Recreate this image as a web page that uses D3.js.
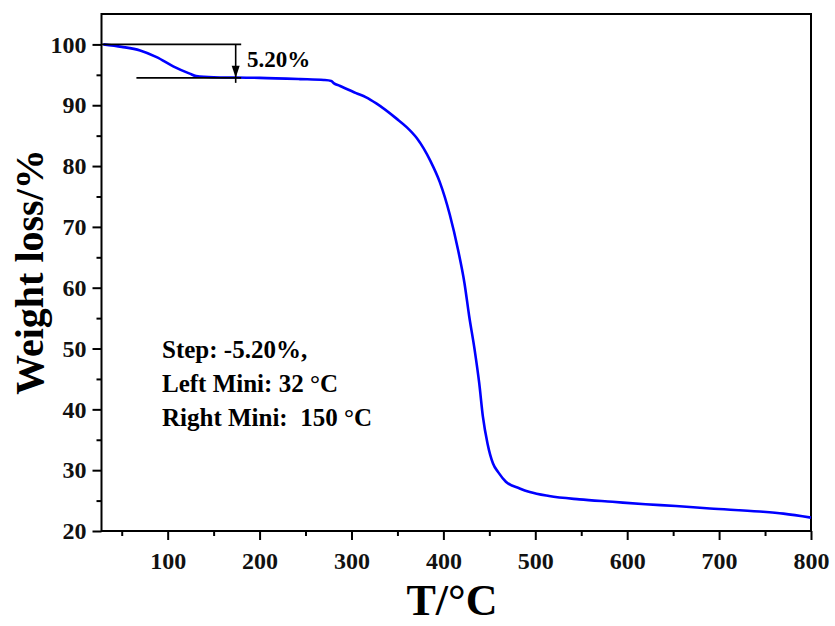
<!DOCTYPE html>
<html>
<head>
    <meta charset="utf-8">
    <title>TGA curve</title>
    <script src="https://d3js.org/d3.v7.min.js"></script>
    <style>
        body { margin: 0; background: #fff; }
        text { font-family: "Liberation Serif", "Times New Roman", serif; font-weight: bold; }
    </style>
</head>
<body>
    <svg id="chart" width="835" height="626"></svg>

    <script>
        const temps   = [30, 50, 70, 88, 106, 124, 131, 150, 175, 200, 244, 270, 278, 281, 287, 305, 316, 327, 349, 360, 371, 386, 396, 407, 416, 423, 428, 434, 439, 443, 448, 454, 460, 468, 483, 494, 515, 548, 584, 620, 653, 690, 744, 770, 800];
        const weights = [100, 99.6, 99.0, 97.9, 96.4, 95.2, 94.8, 94.6, 94.55, 94.5, 94.3, 94.15, 94.0, 93.6, 93.2, 92.0, 91.3, 90.3, 87.8, 86.4, 84.6, 80.8, 77.4, 72.0, 66.2, 60.7, 55.4, 49.8, 44.3, 38.8, 34.4, 31.1, 29.6, 28.1, 27.0, 26.4, 25.75, 25.2, 24.8, 24.4, 24.1, 23.7, 23.2, 22.85, 22.2];

        const xTicks = [100, 200, 300, 400, 500, 600, 700, 800];
        const xMinor = [50, 150, 250, 350, 450, 550, 650, 750];
        const yTicks = [20, 30, 40, 50, 60, 70, 80, 90, 100];
        const yMinor = [25, 35, 45, 55, 65, 75, 85, 95];

        // anotacion del escalon
        const stepTop = 100, stepBottom = 94.5;
        const stepStartT = 66, stepEndT = 180, arrowT = 174;
        const stepLabel = "5.20%";
        const infoLines = ["Step: -5.20%,", "Left Mini: 32 \u00B0C", "Right Mini:  150 \u00B0C"];

        const svg = d3.select("#chart");
        const plotL = 101.5, plotR = 811, plotT = 14, plotB = 531;

        const x = d3.scaleLinear().domain([28, 800]).range([plotL, plotR]);
        const y = d3.scaleLinear().domain([20, 105]).range([plotB, plotT]);

        // ejes con ticks menores
        function minorAxis(axis, vals) {
            return axis.tickValues(vals).tickSize(5).tickFormat("");
        }
        svg.append("g").attr("transform", `translate(0,${plotB})`)
            .call(minorAxis(d3.axisBottom(x), xMinor));
        svg.append("g").attr("transform", `translate(0,${plotB})`)
            .call(d3.axisBottom(x).tickValues(xTicks).tickSize(9).tickPadding(12).tickFormat(d3.format("d")));

        svg.append("g").attr("transform", `translate(${plotL},0)`)
            .call(minorAxis(d3.axisLeft(y), yMinor));
        svg.append("g").attr("transform", `translate(${plotL},0)`)
            .call(d3.axisLeft(y).tickValues(yTicks).tickSize(9).tickPadding(6).tickFormat(d3.format("d")));

        svg.selectAll(".domain").remove();
        svg.selectAll(".tick line").attr("stroke", "#000").attr("stroke-width", 2);
        svg.selectAll(".tick text").attr("font-size", 24).attr("fill", "#111")
            .style("font-family", "'Liberation Serif', serif").style("font-weight", "bold");

        // marco
        svg.append("rect")
            .attr("x", plotL).attr("y", plotT)
            .attr("width", plotR - plotL).attr("height", plotB - plotT)
            .attr("fill", "none").attr("stroke", "#000").attr("stroke-width", 2);

        // curva
        const pts = temps.map((t, i) => [t, weights[i]]);
        svg.append("path")
            .datum(pts)
            .attr("fill", "none")
            .attr("stroke", "#0000ff")
            .attr("stroke-width", 2.6)
            .attr("d", d3.line().x(d => x(d[0])).y(d => y(d[1])).curve(d3.curveMonotoneX));

        // lineas de la anotacion
        svg.append("line")
            .attr("x1", x(28)).attr("x2", x(stepEndT))
            .attr("y1", y(stepTop)).attr("y2", y(stepTop))
            .attr("stroke", "#000").attr("stroke-width", 1.6);
        svg.append("line")
            .attr("x1", x(stepStartT)).attr("x2", x(stepEndT))
            .attr("y1", y(stepBottom)).attr("y2", y(stepBottom))
            .attr("stroke", "#000").attr("stroke-width", 1.6);
        svg.append("line")
            .attr("x1", x(arrowT)).attr("x2", x(arrowT))
            .attr("y1", y(stepTop)).attr("y2", y(stepBottom) + 5)
            .attr("stroke", "#000").attr("stroke-width", 1.6);
        const ax = x(arrowT), ay = y(stepBottom);
        svg.append("path")
            .attr("d", `M${ax},${ay} L${ax - 4},${ay - 12} L${ax + 4},${ay - 12} Z`)
            .attr("fill", "#000");

        svg.append("text")
            .attr("x", 247).attr("y", 66.5)
            .attr("font-size", 23)
            .text(stepLabel);

        svg.selectAll(".info")
            .data(infoLines)
            .enter().append("text")
            .attr("class", "info")
            .attr("x", 162)
            .attr("y", (d, i) => 358 + i * 34)
            .attr("font-size", 25)
            .style("white-space", "pre")
            .text(d => d);

        // titulos de ejes
        svg.append("text")
            .attr("x", 452).attr("y", 615)
            .attr("text-anchor", "middle")
            .attr("font-size", 44)
            .text("T/\u00B0C");

        svg.append("text")
            .attr("transform", "translate(43,272) rotate(-90)")
            .attr("text-anchor", "middle")
            .attr("font-size", 40)
            .text("Weight loss/%");
    </script>
</body>
</html>
